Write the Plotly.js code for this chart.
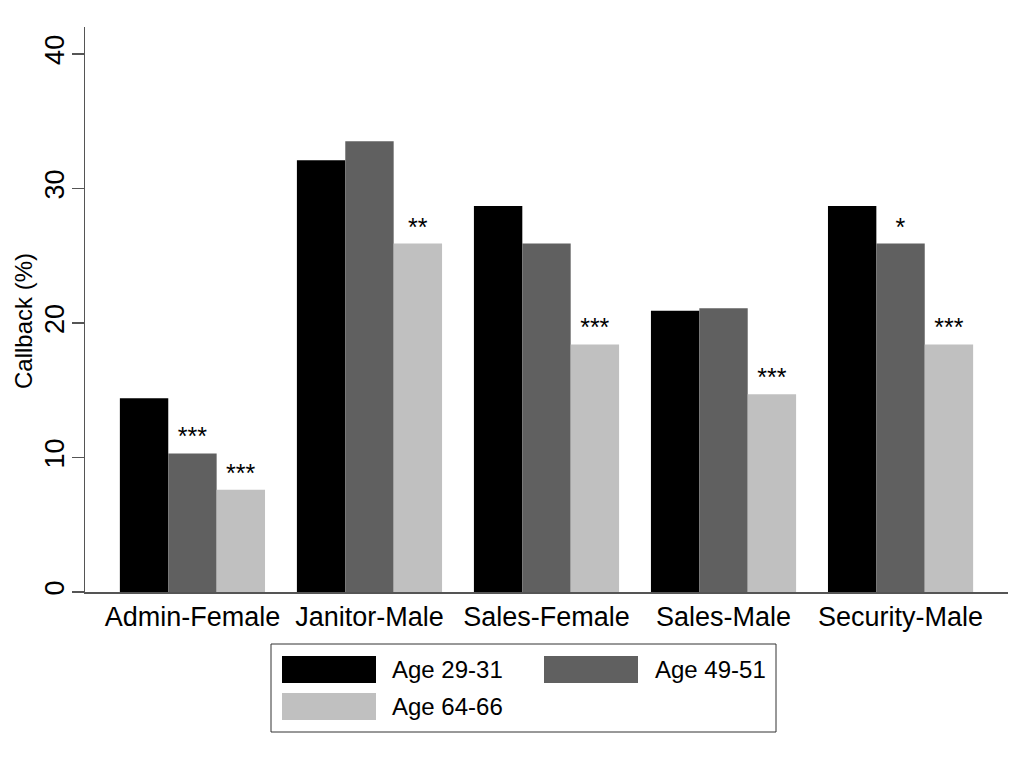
<!DOCTYPE html>
<html>
<head>
<meta charset="utf-8">
<script src="https://cdn.plot.ly/plotly-3.0.1.min.js"></script>
<style>html,body{margin:0;padding:0;background:#fff;}#chart{width:1026px;height:767px;}</style>
</head>
<body>
<div id="chart"></div>
<script>
// ---- data ----
var categories = ["Admin-Female", "Janitor-Male", "Sales-Female", "Sales-Male", "Security-Male"];
var seriesNames = ["Age 29-31", "Age 49-51", "Age 64-66"];
var age29_31 = [14.4, 32.1, 28.7, 20.9, 28.7];
var age49_51 = [10.3, 33.5, 25.9, 21.1, 25.9];
var age64_66 = [7.6, 25.9, 18.4, 14.7, 18.4];
var stars29_31 = ["", "", "", "", ""];
var stars49_51 = ["***", "", "", "", "*"];
var stars64_66 = ["***", "**", "***", "***", "***"];
var yTicks = [0, 10, 20, 30, 40];
var yTitle = "Callback (%)";

// ---- styling ----
var FONT = "Liberation Sans, Arial, Helvetica, sans-serif";
var colors = ["#000000", "#606060", "#c0c0c0"];
var values = [age29_31, age49_51, age64_66];
var stars = [stars29_31, stars49_51, stars64_66];

var L = 85, R = 18, T = 27, B = 175, WIDTH = 1026, HEIGHT = 767;
var PW = WIDTH - L - R, PH = HEIGHT - T - B;
function fx(p) { return (p - L) / PW; }
function fy(p) { return (T + PH - p) / PH; }

var traces = values.map(function (v, i) {
  return {
    type: "bar",
    name: seriesNames[i],
    x: categories,
    y: v,
    text: stars[i],
    textposition: "outside",
    textfont: {family: FONT, size: 25, color: "#000"},
    cliponaxis: false,
    marker: {color: colors[i], line: {width: 0}},
    hoverinfo: "x+y+name",
    showlegend: false
  };
});

// custom legend (wide swatches like the reference)
var shapes = [{
  type: "rect", xref: "paper", yref: "paper",
  x0: fx(271), x1: fx(776), y0: fy(732), y1: fy(644),
  line: {color: "#333", width: 1}, fillcolor: "#fff", layer: "below"
}];
var annotations = [];
var colSwatch = [282, 544], colText = [392, 655], rowTop = [656, 693];
seriesNames.forEach(function (n, i) {
  var c = i % 2, r = Math.floor(i / 2);
  shapes.push({
    type: "rect", xref: "paper", yref: "paper",
    x0: fx(colSwatch[c]), x1: fx(colSwatch[c] + 94),
    y0: fy(rowTop[r] + 27), y1: fy(rowTop[r]),
    line: {width: 0}, fillcolor: colors[i]
  });
  annotations.push({
    xref: "paper", yref: "paper",
    x: fx(colText[c] - 2), y: fy(rowTop[r] + 13.5),
    xanchor: "left", yanchor: "middle",
    text: n, showarrow: false,
    font: {family: FONT, size: 24, color: "#000"}
  });
});

// y-axis title placed as rotated text
annotations.push({
  xref: "paper", yref: "paper",
  x: fx(23), y: fy(321),
  xanchor: "center", yanchor: "middle",
  textangle: -90, text: yTitle, showarrow: false,
  font: {family: FONT, size: 24, color: "#000"}
});

var layout = {
  width: WIDTH, height: HEIGHT,
  margin: {l: L, r: R, t: T, b: B, pad: 0},
  paper_bgcolor: "#fff", plot_bgcolor: "#fff",
  font: {family: FONT, color: "#000"},
  barmode: "group", bargap: 0.18, bargroupgap: 0,
  showlegend: false,
  xaxis: {
    type: "category", range: [-0.607, 4.607],
    showline: true, linecolor: "#555", linewidth: 1.5,
    ticks: "", showgrid: false, zeroline: false,
    tickfont: {family: FONT, size: 27, color: "#000"},
    fixedrange: true
  },
  yaxis: {
    range: [0, 42], tickvals: yTicks, ticktext: yTicks.map(String),
    showline: true, linecolor: "#555", linewidth: 1.5,
    ticks: "outside", ticklen: 12, tickcolor: "#555", tickwidth: 1.5,
    showgrid: false, zeroline: false, tickangle: -90,
    ticklabelstandoff: -3,
    tickfont: {family: FONT, size: 27, color: "#000"},
    fixedrange: true
  },
  shapes: shapes,
  annotations: annotations
};

Plotly.newPlot("chart", traces, layout, {displayModeBar: false, staticPlot: true});
</script>
</body>
</html>
